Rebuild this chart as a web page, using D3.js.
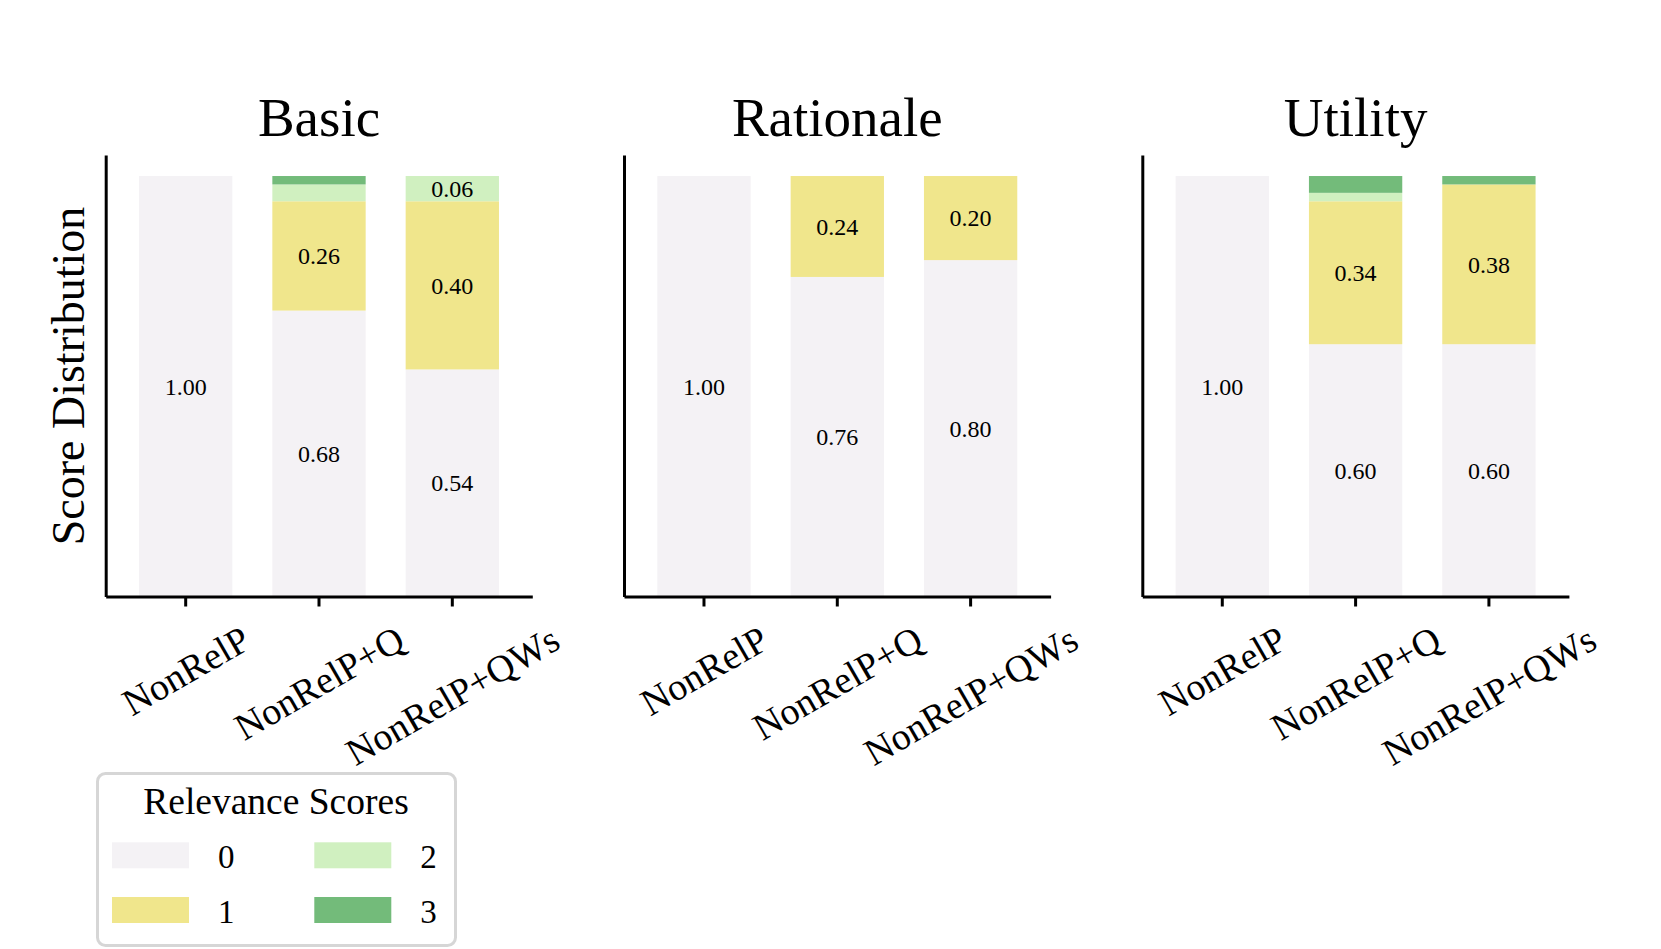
<!DOCTYPE html>
<html>
<head>
<meta charset="utf-8">
<script src="https://cdn.jsdelivr.net/npm/d3@7"></script>
<style>
  body { margin: 0; background: #fff; }
  text { font-family: "Liberation Serif", "DejaVu Serif", serif; fill: #000; }
</style>
</head>
<body>
<div id="chart"></div>
<script>
// data
const panels = ["Basic", "Rationale", "Utility"];
const conditions = ["NonRelP", "NonRelP+Q", "NonRelP+QWs"];
const scoreKeys = ["0", "1", "2", "3"];
const scoreColors = ["#f4f2f5", "#f0e68c", "#d0f0c0", "#73bb7a"];

// one row per panel, one value per condition
const score0 = [[1.00, 0.68, 0.54], [1.00, 0.76, 0.80], [1.00, 0.60, 0.60]];
const score1 = [[0.00, 0.26, 0.40], [0.00, 0.24, 0.20], [0.00, 0.34, 0.38]];
const score2 = [[0.00, 0.04, 0.06], [0.00, 0.00, 0.00], [0.00, 0.02, 0.00]];
const score3 = [[0.00, 0.02, 0.00], [0.00, 0.00, 0.00], [0.00, 0.04, 0.02]];

const W = 1661, H = 949;
const panelLeft = [105.7, 624, 1142.3];
const panelW = 426.6;
const plotTop = 155, plotBottom = 596.5;
const plotH = plotBottom - plotTop;

const svg = d3.select("#chart").append("svg")
    .attr("width", W)
    .attr("height", H);

const x = d3.scaleBand()
    .domain(conditions)
    .range([0, panelW])
    .paddingInner(0.3)
    .paddingOuter(0.25);

const y = d3.scaleLinear()
    .domain([0, 1.05])
    .range([plotH, 0]);

const color = d3.scaleOrdinal().domain(scoreKeys).range(scoreColors);

const stack = d3.stack().keys(scoreKeys);

const tickFont = 38;

panels.forEach((name, p) => {
    const rows = conditions.map((c, i) => ({
        cond: c,
        "0": score0[p][i], "1": score1[p][i], "2": score2[p][i], "3": score3[p][i]
    }));
    const series = stack(rows);

    const g = svg.append("g")
        .attr("transform", `translate(${panelLeft[p]},${plotTop})`);

    // stacked bars
    series.forEach(s => {
        g.selectAll(null)
            .data(s)
            .enter()
            .append("rect")
            .attr("x", d => x(d.data.cond))
            .attr("y", d => y(d[1]))
            .attr("width", x.bandwidth())
            .attr("height", d => y(d[0]) - y(d[1]))
            .attr("fill", color(s.key));
    });

    // value labels
    series.forEach(s => {
        g.selectAll(null)
            .data(s.filter(d => d[1] - d[0] >= 0.05))
            .enter()
            .append("text")
            .attr("x", d => x(d.data.cond) + x.bandwidth() / 2)
            .attr("y", d => y((d[0] + d[1]) / 2))
            .attr("dy", "0.35em")
            .attr("text-anchor", "middle")
            .style("font-size", "24px")
            .text(d => (d[1] - d[0]).toFixed(2));
    });

    // bottom axis
    const xAxis = g.append("g")
        .attr("transform", `translate(0,${plotH})`)
        .call(d3.axisBottom(x).tickSize(10).tickSizeOuter(0));
    xAxis.select(".domain").attr("stroke", "#000").attr("stroke-width", 3);
    xAxis.selectAll(".tick line").attr("stroke", "#000").attr("stroke-width", 3);
    xAxis.selectAll(".tick text")
        .attr("fill", "#000")
        .style("font-size", tickFont + "px")
        .attr("text-anchor", "middle")
        .attr("dy", "0.35em")
        .each(function () {
            const t = d3.select(this);
            const w = this.getComputedTextLength();
            const h = tickFont * 1.1;
            const a = 30 * Math.PI / 180;
            const half = w / 2 * Math.sin(a) + h / 2 * Math.cos(a);
            t.attr("y", 0).attr("x", 0)
                .attr("transform", `translate(0,${21 + half}) rotate(-30)`);
        });

    // left spine, no ticks
    const yAxis = g.append("g")
        .call(d3.axisLeft(y).ticks(0).tickSize(0).tickSizeOuter(0));
    yAxis.select(".domain").attr("stroke", "#000").attr("stroke-width", 3);
    yAxis.selectAll(".tick").remove();

    // title
    g.append("text")
        .attr("x", panelW / 2)
        .attr("y", 135.7 - plotTop)
        .attr("text-anchor", "middle")
        .style("font-size", "55px")
        .text(name);
});

// y label
svg.append("text")
    .attr("transform", `translate(84,376) rotate(-90)`)
    .attr("text-anchor", "middle")
    .style("font-size", "46px")
    .text("Score Distribution");

// legend
const legend = svg.append("g");
legend.append("rect")
    .attr("x", 97.5).attr("y", 773.5)
    .attr("width", 358).attr("height", 172)
    .attr("rx", 8)
    .attr("fill", "#fff")
    .attr("stroke", "#d6d6d6")
    .attr("stroke-width", 3);
legend.append("text")
    .attr("x", 276).attr("y", 814)
    .attr("text-anchor", "middle")
    .style("font-size", "37.5px")
    .text("Relevance Scores");

const legendCols = [112, 314.3];
const legendRows = [842.3, 897];
scoreKeys.forEach((k, i) => {
    const col = Math.floor(i / 2), row = i % 2;
    legend.append("rect")
        .attr("x", legendCols[col]).attr("y", legendRows[row])
        .attr("width", 77).attr("height", 26)
        .attr("fill", color(k));
    legend.append("text")
        .attr("x", legendCols[col] + 106)
        .attr("y", legendRows[row] + 26)
        .style("font-size", "33px")
        .text(k);
});
</script>
</body>
</html>
